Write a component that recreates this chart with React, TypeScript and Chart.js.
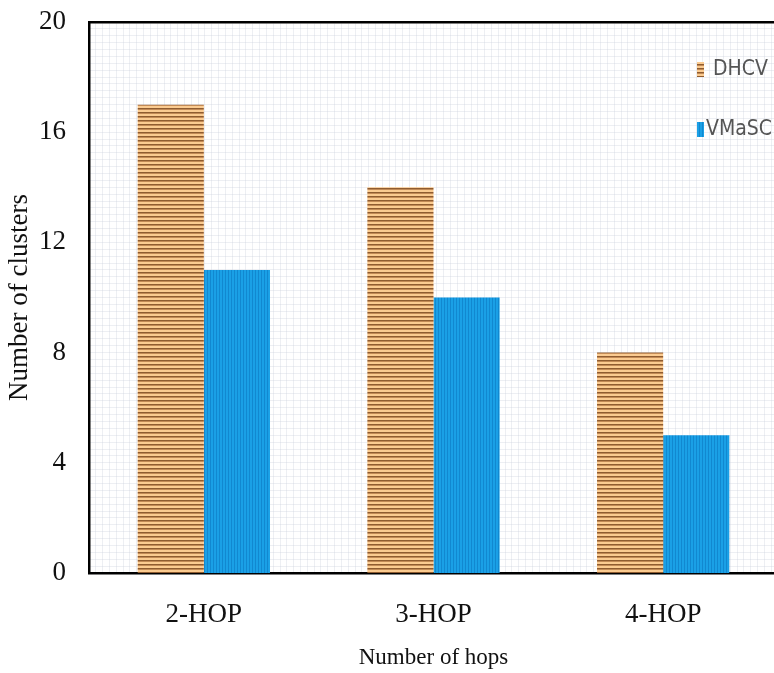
import React, { useEffect, useRef } from "react";
import { Chart, registerables } from "chart.js";

Chart.register(...registerables);

const categories = ["2-HOP", "3-HOP", "4-HOP"];
const dhcvValues = [17, 14, 8];
const vmascValues = [11, 10, 5];
const seriesLabels = ["DHCV", "VMaSC"];
const yTickValues = [0, 4, 8, 12, 16, 20];
const xAxisTitle = "Number of hops";
const yAxisTitle = "Number of clusters";

function makeStripePattern(): CanvasPattern | string {
  const c = document.createElement("canvas");
  c.width = 8;
  c.height = 4;
  const g = c.getContext("2d");
  if (!g) return "#f9c88c";
  g.fillStyle = "#fbcb90";
  g.fillRect(0, 0, 8, 4);
  g.fillStyle = "#8f5c30";
  g.fillRect(0, 0, 8, 1);
  g.fillStyle = "#c28a55";
  g.fillRect(0, 1, 8, 1);
  return g.createPattern(c, "repeat") || "#f9c88c";
}

function makeBluePattern(): CanvasPattern | string {
  const c = document.createElement("canvas");
  c.width = 3;
  c.height = 8;
  const g = c.getContext("2d");
  if (!g) return "#1a9de2";
  g.fillStyle = "#1aa0e6";
  g.fillRect(0, 0, 3, 8);
  g.fillStyle = "#1188d0";
  g.fillRect(0, 0, 1, 8);
  return g.createPattern(c, "repeat") || "#1a9de2";
}

const legendPlugin = {
  id: "insideLegend",
  afterDraw(chart: any) {
    const ctx = chart.ctx;
    const items = [
      { box: { x: 697, y: 62, w: 7, h: 15 }, text: { x: 713, y: 70 } },
      { box: { x: 697, y: 122, w: 7, h: 15 }, text: { x: 706, y: 130 } },
    ];
    ctx.save();
    chart.data.datasets.forEach((ds: any, i: number) => {
      const it = items[i];
      if (!it) return;
      ctx.fillStyle = ds.backgroundColor;
      ctx.fillRect(it.box.x, it.box.y, it.box.w, it.box.h);
      ctx.fillStyle = "#555555";
      ctx.font = '21px "DejaVu Sans Condensed", "Liberation Sans Narrow", "Roboto Condensed", Roboto, sans-serif';
      ctx.textBaseline = "middle";
      ctx.textAlign = "left";
      ctx.fillText(ds.label, it.text.x, it.text.y);
    });
    ctx.restore();
  },
};

export default function App() {
  const canvasRef = useRef<HTMLCanvasElement | null>(null);

  useEffect(() => {
    const canvas = canvasRef.current;
    if (!canvas) return;
    const stripe = makeStripePattern();
    const blue = makeBluePattern();
    const gridColor = "rgba(200,206,218,0.32)";
    const serif = '"Liberation Serif", "Times New Roman", serif';

    const chart = new Chart(canvas, {
      type: "bar",
      data: {
        labels: categories,
        datasets: [
          {
            label: seriesLabels[0],
            data: dhcvValues,
            backgroundColor: stripe as any,
            borderWidth: 0,
            xAxisID: "x",
            yAxisID: "y",
          },
          {
            label: seriesLabels[1],
            data: vmascValues,
            backgroundColor: blue as any,
            borderWidth: 0,
            xAxisID: "x",
            yAxisID: "y",
          },
        ],
      },
      options: {
        responsive: false,
        animation: false,
        devicePixelRatio: 1,
        layout: { padding: 0, autoPadding: false },
        datasets: {
          bar: { categoryPercentage: 0.576, barPercentage: 1 },
        },
        plugins: {
          legend: { display: false },
          tooltip: { enabled: false },
        },
        scales: {
          x: {
            type: "category",
            position: "bottom",
            offset: true,
            grid: { display: false, drawTicks: false },
            border: { display: true, color: "#000", width: 2.5 },
            ticks: {
              color: "#111",
              font: { family: serif, size: 27 },
              padding: 26,
            },
            title: {
              display: true,
              text: xAxisTitle,
              color: "#111",
              font: { family: serif, size: 23 },
              padding: { top: 0, bottom: 1 },
            },
            afterFit: (s: any) => {
              s.height = 100;
              s.paddingLeft = 0;
              s.paddingRight = 0;
            },
          },
          y: {
            type: "linear",
            position: "left",
            min: 0,
            max: 20,
            grid: { display: false, drawTicks: false },
            border: { display: true, color: "#000", width: 2.5 },
            afterBuildTicks: (s: any) => {
              s.ticks = yTickValues.map((v) => ({ value: v }));
            },
            ticks: {
              color: "#111",
              font: { family: serif, size: 27 },
              padding: 23,
            },
            title: {
              display: true,
              text: yAxisTitle,
              color: "#111",
              font: { family: serif, size: 27 },
              padding: { top: 4, bottom: 4 },
            },
            afterFit: (s: any) => {
              s.width = 89;
              s.paddingTop = 0;
              s.paddingBottom = 0;
            },
          },
          xMinor: {
            type: "linear",
            position: "top",
            min: 0,
            max: 100,
            grid: { color: gridColor, lineWidth: 1, drawTicks: false },
            border: { display: true, color: "#000", width: 2.5 },
            ticks: { display: false, stepSize: 1, maxTicksLimit: 1000, autoSkip: false },
            afterFit: (s: any) => {
              s.height = 22;
              s.paddingLeft = 0;
              s.paddingRight = 0;
            },
          },
          yMinor: {
            type: "linear",
            position: "right",
            min: 0,
            max: 80,
            grid: { color: gridColor, lineWidth: 1, drawTicks: false },
            border: { display: false },
            ticks: { display: false, stepSize: 1, maxTicksLimit: 1000, autoSkip: false },
            afterFit: (s: any) => {
              s.width = 22;
              s.paddingTop = 0;
              s.paddingBottom = 0;
            },
          },
        },
      } as any,
      plugins: [legendPlugin],
    });

    return () => {
      chart.destroy();
    };
  }, []);

  return (
    <div
      style={{
        position: "fixed",
        left: 0,
        top: 0,
        width: 774,
        height: 673,
        overflow: "hidden",
        background: "#fff",
      }}
    >
      <canvas ref={canvasRef} width={800} height={673} style={{ display: "block", width: 800, height: 673 }} />
    </div>
  );
}
